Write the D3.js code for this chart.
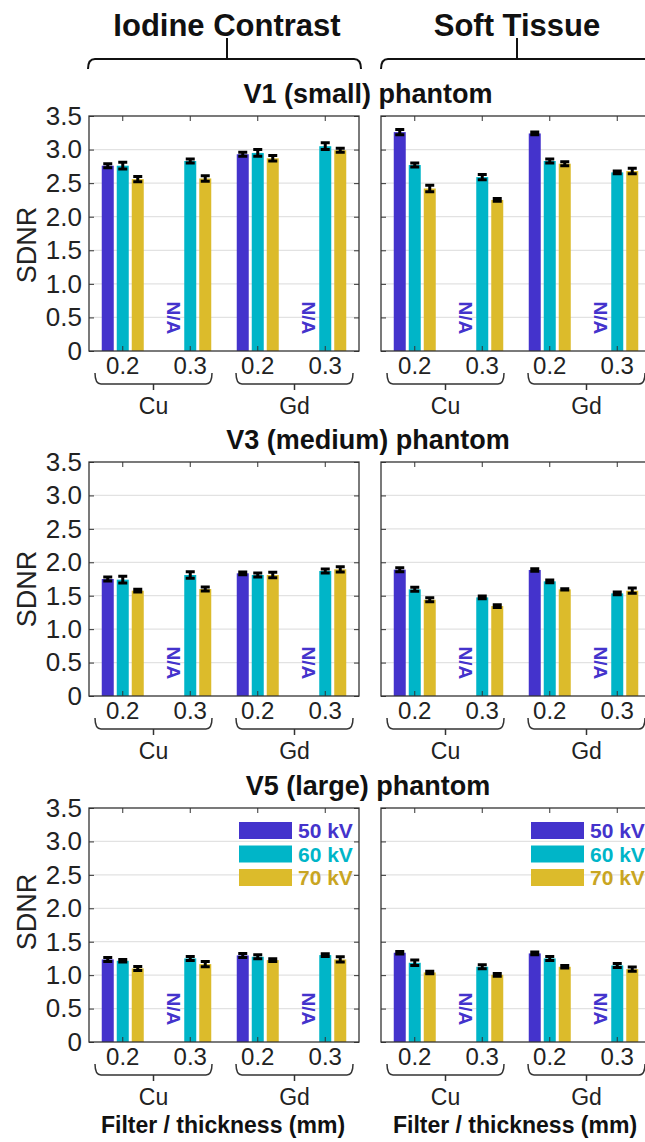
<!DOCTYPE html>
<html>
<head>
<meta charset="utf-8">
<script src="https://cdn.jsdelivr.net/npm/d3@7/dist/d3.min.js"></script>
<style>
  html, body { margin: 0; padding: 0; background: #fff; }
  svg { display: block; font-family: "Liberation Sans", Arial, Helvetica, sans-serif; }
</style>
</head>
<body>
<svg id="chart" width="645" height="1142"></svg>
<script>
// ---------------- data ----------------
const series = ["50 kV", "60 kV", "70 kV"];
const seriesColors = ["#4433cc", "#00b5c8", "#dcbb2b"];
const legendTextColors = ["#4433cc", "#00b5c8", "#c9a522"];
const groupKeys = ["Cu 0.2", "Cu 0.3", "Gd 0.2", "Gd 0.3"];
const thicknessLabels = ["0.2", "0.3", "0.2", "0.3"];
const filters = ["Cu", "Gd"];
const yTicks = [0, 0.5, 1.0, 1.5, 2.0, 2.5, 3.0, 3.5];
const tasks = ["Iodine Contrast", "Soft Tissue"];
const phantoms = ["V1 (small) phantom", "V3 (medium) phantom", "V5 (large) phantom"];

// values per group: [50 kV, 60 kV, 70 kV]; null = N/A
const v1Iodine    = [[2.76, 2.76, 2.56], [null, 2.83, 2.57], [2.93, 2.95, 2.87], [null, 3.05, 2.99]];
const v1IodineErr = [[0.03, 0.05, 0.04], [null, 0.03, 0.04], [0.03, 0.05, 0.04], [null, 0.05, 0.03]];
const v1Soft      = [[3.26, 2.77, 2.42], [null, 2.59, 2.25], [3.24, 2.83, 2.79], [null, 2.66, 2.68]];
const v1SoftErr   = [[0.04, 0.03, 0.05], [null, 0.04, 0.02], [0.02, 0.03, 0.03], [null, 0.02, 0.04]];
const v3Iodine    = [[1.75, 1.74, 1.575], [null, 1.81, 1.60], [1.835, 1.81, 1.81], [null, 1.87, 1.895]];
const v3IodineErr = [[0.03, 0.05, 0.02], [null, 0.05, 0.03], [0.02, 0.03, 0.04], [null, 0.03, 0.04]];
const v3Soft      = [[1.89, 1.595, 1.44], [null, 1.475, 1.345], [1.885, 1.715, 1.595], [null, 1.535, 1.575]];
const v3SoftErr   = [[0.03, 0.03, 0.03], [null, 0.02, 0.02], [0.02, 0.02, 0.01], [null, 0.02, 0.04]];
const v5Iodine    = [[1.235, 1.215, 1.10], [null, 1.25, 1.165], [1.295, 1.275, 1.225], [null, 1.30, 1.235]];
const v5IodineErr = [[0.03, 0.02, 0.03], [null, 0.03, 0.04], [0.03, 0.03, 0.02], [null, 0.02, 0.04]];
const v5Soft      = [[1.335, 1.185, 1.04], [null, 1.125, 1.005], [1.325, 1.25, 1.125], [null, 1.145, 1.09]];
const v5SoftErr   = [[0.02, 0.04, 0.02], [null, 0.03, 0.02], [0.02, 0.03, 0.02], [null, 0.03, 0.03]];

const panelData = [
  [[v1Iodine, v1IodineErr], [v1Soft, v1SoftErr]],
  [[v3Iodine, v3IodineErr], [v3Soft, v3SoftErr]],
  [[v5Iodine, v5IodineErr], [v5Soft, v5SoftErr]]
];

// ---------------- layout ----------------
const rows = [
  { top: 116, bottom: 351, titleY: 103, labelY: 245 },
  { top: 462, bottom: 696, titleY: 449, labelY: 589 },
  { top: 808, bottom: 1042, titleY: 795, labelY: 912 }
];
const cols = [ { x0: 89, x1: 359 }, { x0: 381, x1: 651 } ];
const FONT_BOLD = 700;
const axisColor = "#333";

const svg = d3.select("#chart");
const root = svg.append("g");

svg.append("defs").append("clipPath").attr("id", "vis")
  .append("rect").attr("x", 0).attr("y", 0).attr("width", 645).attr("height", 1142);
root.attr("clip-path", "url(#vis)");

// ---------------- header ----------------
const headerCenters = [227, 517];
const headerSpans = [[88, 361], [381, 653]];
tasks.forEach((t, i) => {
  root.append("text")
    .attr("x", headerCenters[i]).attr("y", 36)
    .attr("text-anchor", "middle")
    .attr("font-size", 31).attr("font-weight", FONT_BOLD)
    .attr("fill", "#111").text(t);
  const [L, R] = headerSpans[i];
  const c = headerCenters[i];
  const yH = 59, yE = 69;
  root.append("path")
    .attr("d", `M${L},${yE} Q${L},${yH} ${L + 7},${yH} H${R - 7} Q${R},${yH} ${R},${yE} M${c},${yH} V38`)
    .attr("fill", "none").attr("stroke", "#111").attr("stroke-width", 2);
});

// ---------------- panels ----------------
rows.forEach((row, ri) => {
  root.append("text")
    .attr("x", 368).attr("y", row.titleY)
    .attr("text-anchor", "middle")
    .attr("font-size", 27).attr("font-weight", FONT_BOLD)
    .attr("fill", "#111").text(phantoms[ri]);

  root.append("text")
    .attr("transform", `translate(36,${row.labelY}) rotate(-90)`)
    .attr("text-anchor", "middle")
    .attr("font-size", 27).attr("fill", "#222")
    .text("SDNR");

  const y = d3.scaleLinear().domain([0, 3.5]).range([row.bottom, row.top]);

  cols.forEach((col, ci) => {
    const g = root.append("g");
    const x0 = d3.scaleBand().domain(groupKeys).range([col.x0, col.x1]).padding(0);
    const x1 = d3.scaleBand().domain(series).range([-22.5, 22.5]).paddingInner(0.2).paddingOuter(0.1);
    const center = k => x0(k) + x0.bandwidth() / 2;
    const [vals, errs] = panelData[ri][ci];

    // gridlines
    g.append("g").selectAll("line")
      .data(yTicks.filter(v => v > 0 && v < 3.5))
      .join("line")
      .attr("x1", col.x0).attr("x2", col.x1)
      .attr("y1", d => y(d)).attr("y2", d => y(d))
      .attr("stroke", "#e2e2e2").attr("stroke-width", 1.2);

    // bars
    groupKeys.forEach((k, gi) => {
      series.forEach((s, si) => {
        const v = vals[gi][si];
        const bx = center(k) + x1(s);
        if (v === null) {
          g.append("text")
            .attr("transform", `translate(${bx + x1.bandwidth() / 2 - 1},${y(0.25)}) rotate(90)`)
            .attr("text-anchor", "end")
            .attr("dy", "0.36em")
            .attr("font-size", 19).attr("font-weight", FONT_BOLD)
            .attr("fill", "#4433cc")
            .text("N/A");
          return;
        }
        g.append("rect")
          .attr("x", bx).attr("width", x1.bandwidth())
          .attr("y", y(v)).attr("height", y(0) - y(v))
          .attr("fill", seriesColors[si]);
      });
    });

    // error bars
    groupKeys.forEach((k, gi) => {
      series.forEach((s, si) => {
        const v = vals[gi][si];
        if (v === null) return;
        const e = errs[gi][si];
        const cx = center(k) + x1(s) + x1.bandwidth() / 2;
        const yLo = y(v - e), yHi = y(v + e);
        const hw = 4.5;
        g.append("path")
          .attr("d", `M${cx},${yLo} V${yHi} M${cx - hw},${yLo} H${cx + hw} M${cx - hw},${yHi} H${cx + hw}`)
          .attr("fill", "none").attr("stroke", "#000").attr("stroke-width", 3);
      });
    });

    // y axis (left) with inside ticks
    const yAxis = d3.axisLeft(y).tickValues(yTicks).tickSize(-5).tickPadding(7)
      .tickFormat(d => ci === 0 ? (d === 0 ? "0" : d3.format(".1f")(d)) : "");
    const ya = g.append("g").attr("transform", `translate(${col.x0},0)`).call(yAxis);
    ya.select(".domain").remove();
    ya.selectAll("line").attr("stroke", axisColor);
    ya.selectAll("text").attr("font-size", 26).attr("fill", "#222").attr("font-family", null);

    const yr = g.append("g").attr("transform", `translate(${col.x1},0)`)
      .call(d3.axisRight(y).tickValues(yTicks).tickSize(-5).tickFormat(""));
    yr.select(".domain").remove();
    yr.selectAll("line").attr("stroke", axisColor);

    // bottom axis
    const xAxis = d3.axisBottom(x0).tickSize(-5).tickPadding(6)
      .tickFormat((d, i) => thicknessLabels[i]);
    const xa = g.append("g").attr("transform", `translate(0,${row.bottom})`).call(xAxis);
    xa.select(".domain").remove();
    xa.selectAll("line").attr("stroke", axisColor);
    xa.selectAll("text").attr("font-size", 24).attr("fill", "#222").attr("font-family", null);

    const xt = g.append("g").attr("transform", `translate(0,${row.top})`)
      .call(d3.axisTop(x0).tickSize(-5).tickFormat(""));
    xt.select(".domain").remove();
    xt.selectAll("line").attr("stroke", axisColor);

    // box
    g.append("rect")
      .attr("x", col.x0).attr("y", row.top)
      .attr("width", col.x1 - col.x0).attr("height", row.bottom - row.top)
      .attr("fill", "none").attr("stroke", axisColor).attr("stroke-width", 1.3);

    // braces + filter labels
    filters.forEach((f, fi) => {
      const mid = (center(groupKeys[fi * 2]) + center(groupKeys[fi * 2 + 1])) / 2 + (fi === 0 ? -3 : 3);
      const L = mid - 58.5, R = mid + 58.5;
      const yT = row.bottom + 22, yH = row.bottom + 33;
      g.append("path")
        .attr("d", `M${L},${yT} Q${L},${yH} ${L + 6},${yH} H${R - 6} Q${R},${yH} ${R},${yT} M${mid},${yH} V${yH + 6}`)
        .attr("fill", "none").attr("stroke", "#333").attr("stroke-width", 1.5);
      g.append("text")
        .attr("x", mid).attr("y", row.bottom + 63)
        .attr("text-anchor", "middle")
        .attr("font-size", 23).attr("fill", "#222")
        .text(f);
    });

    if (ri === 2) {
      const lx = col.x0 + 150;
      series.forEach((s, si) => {
        const ly = row.top + 14 + si * 23.5;
        g.append("rect")
          .attr("x", lx).attr("y", ly).attr("width", 53).attr("height", 17)
          .attr("fill", seriesColors[si]);
        g.append("text")
          .attr("x", lx + 59).attr("y", ly + 8.5).attr("dy", "0.36em")
          .attr("font-size", 21).attr("font-weight", FONT_BOLD)
          .attr("fill", legendTextColors[si]).text(s);
      });
      g.append("text")
        .attr("x", (col.x0 + col.x1) / 2 - 1).attr("y", 1133)
        .attr("text-anchor", "middle")
        .attr("font-size", 23).attr("font-weight", FONT_BOLD)
        .attr("fill", "#111").text("Filter / thickness (mm)");
    }
  });
});
</script>
</body>
</html>
